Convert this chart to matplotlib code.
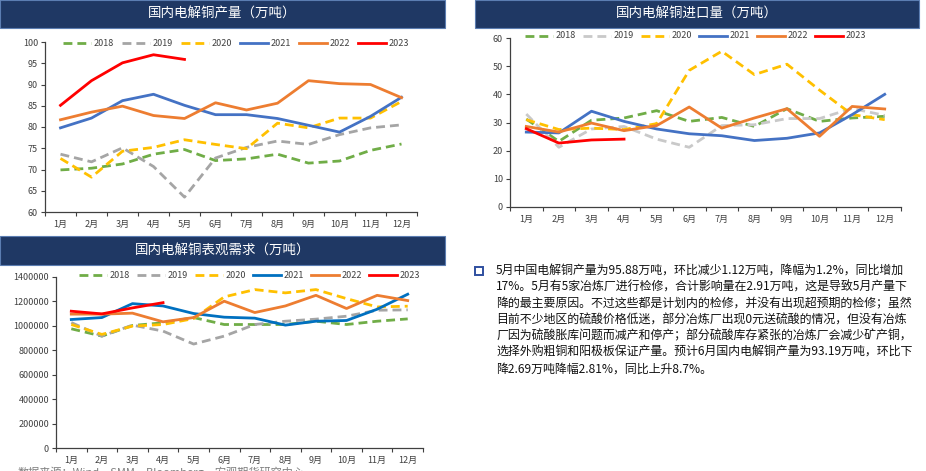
import matplotlib
matplotlib.use("Agg")
import matplotlib.pyplot as plt
from matplotlib.patches import Rectangle
from matplotlib.ticker import FixedLocator, NullFormatter

plt.rcParams['font.family'] = ['Noto Sans CJK SC', 'DejaVu Sans']

months = ["1月", "2月", "3月", "4月", "5月", "6月", "7月", "8月", "9月", "10月", "11月", "12月"]
years = ["2018", "2019", "2020", "2021", "2022", "2023"]

# 国内电解铜产量（万吨）
prod_2018 = [69.9, 70.3, 71.3, 73.6, 74.7, 72.1, 72.5, 73.6, 71.5, 72.0, 74.5, 76.0]
prod_2019 = [73.6, 71.8, 75.1, 70.7, 63.5, 72.7, 75.2, 76.7, 75.9, 78.2, 79.8, 80.5]
prod_2020 = [72.6, 68.2, 74.3, 75.2, 77.0, 75.9, 74.9, 80.9, 79.8, 82.1, 82.1, 86.0]
prod_2021 = [79.8, 82.1, 86.2, 87.7, 85.1, 82.9, 82.9, 82.0, 80.4, 78.8, 82.5, 87.0]
prod_2022 = [81.7, 83.5, 84.9, 82.7, 82.0, 85.7, 84.0, 85.6, 90.9, 90.2, 90.0, 86.9]
prod_2023 = [85.1, 90.9, 95.1, 97.0, 95.9]

# 国内电解铜进口量（万吨）
imp_2018 = [31.2, 23.3, 30.8, 31.6, 34.2, 30.4, 31.8, 28.6, 34.9, 30.4, 31.6, 32.2]
imp_2019 = [33.0, 21.2, 27.7, 28.6, 24.1, 21.2, 28.9, 29.2, 31.4, 31.4, 35.0, 32.5]
imp_2020 = [31.0, 27.5, 28.0, 27.5, 29.6, 48.5, 55.3, 47.0, 50.7, 41.5, 32.8, 31.0]
imp_2021 = [26.6, 26.3, 34.0, 30.4, 27.7, 26.0, 25.3, 23.6, 24.4, 26.3, 32.8, 40.0]
imp_2022 = [28.6, 26.6, 29.8, 27.1, 28.9, 35.5, 28.0, 31.6, 34.9, 25.1, 35.7, 34.8]
imp_2023 = [27.8, 22.7, 23.8, 24.1]

# 国内电解铜表观需求（万吨）
dem_2018 = [976000, 916000, 1003000, 1025000, 1068000, 1011000, 1011000, 1011000, 1038000, 1011000, 1038000, 1057000]
dem_2019 = [1027000, 916000, 1006000, 957000, 851000, 916000, 1011000, 1038000, 1055000, 1079000, 1128000, 1131000]
dem_2020 = [1011000, 930000, 998000, 1011000, 1060000, 1237000, 1297000, 1270000, 1297000, 1223000, 1155000, 1161000]
dem_2021 = [1052000, 1068000, 1182000, 1163000, 1101000, 1071000, 1063000, 1006000, 1038000, 1044000, 1136000, 1259000]
dem_2022 = [1096000, 1096000, 1104000, 1033000, 1068000, 1202000, 1109000, 1163000, 1250000, 1142000, 1250000, 1207000]
dem_2023 = [1120000, 1098000, 1147000, 1190000]

titles = ["国内电解铜产量（万吨）", "国内电解铜进口量（万吨）", "国内电解铜表观需求（万吨）"]
source_text = "数据来源：Wind，SMM，Bloomberg，宏观期货研究中心"
note_lines = [
    "5月中国电解铜产量为95.88万吨，环比减少1.12万吨，降幅为1.2%，同比增加",
    "17%。5月有5家冶炼厂进行检修，合计影响量在2.91万吨，这是导致5月产量下",
    "降的最主要原因。不过这些都是计划内的检修，并没有出现超预期的检修；虽然",
    "目前不少地区的硫酸价格低迷，部分冶炼厂出现0元送硫酸的情况，但没有冶炼",
    "厂因为硫酸胀库问题而减产和停产；部分硫酸库存紧张的冶炼厂会减少矿产铜，",
    "选择外购粗铜和阳极板保证产量。预计6月国内电解铜产量为93.19万吨，环比下",
    "降2.69万吨降幅2.81%，同比上升8.7%。",
]

W, H = 926, 471
fig = plt.figure(figsize=(W / 100, H / 100), dpi=100)
NAVY = "#1F3864"

def px_axes(l, t, r, b):
    return fig.add_axes([l / W, 1 - b / H, (r - l) / W, (b - t) / H])

def title_bar(l, t, r, b, text):
    fig.patches.append(Rectangle((l / W, 1 - b / H), (r - l) / W, (b - t) / H,
                                 transform=fig.transFigure, facecolor=NAVY,
                                 edgecolor="#5B7DB1", linewidth=0.8))
    fig.text((l + r) / 2 / W, 1 - (t + b) / 2 / H, text, color="white",
             fontsize=9.7, ha="center", va="center")

def draw(ax, series, colors, ylim, yticks, ylabels, legend_y, legend_x0, legend_dx):
    x = list(range(1, 13))
    styles = ["--", "--", "--", "-", "-", "-"]
    handles = []
    for name, vals, c, ls in zip(years, series, colors, styles):
        if ls == "--":
            h, = ax.plot(x[:len(vals)], vals, color=c, lw=2.0, ls=ls, dashes=(3.2, 1.8))
        else:
            h, = ax.plot(x[:len(vals)], vals, color=c, lw=2.0, ls=ls)
        handles.append(h)
    ax.set_xlim(0.5, 12.5)
    ax.set_ylim(*ylim)
    ax.set_yticks(yticks)
    ax.set_yticklabels(ylabels, fontsize=6.5, color="#404040")
    ax.set_xticks(x)
    ax.set_xticklabels(months, fontsize=6.5, color="#404040")
    ax.tick_params(axis="x", which="major", length=0, pad=6)
    ax.xaxis.set_minor_locator(FixedLocator([i + 0.5 for i in range(0, 13)]))
    ax.xaxis.set_minor_formatter(NullFormatter())
    ax.tick_params(axis="x", which="minor", length=3, width=0.8, color="#404040")
    ax.tick_params(axis="y", length=3, width=0.8, color="#404040", pad=2)
    for s in ["top", "right"]:
        ax.spines[s].set_visible(False)
    for s in ["left", "bottom"]:
        ax.spines[s].set_color("#404040")
        ax.spines[s].set_linewidth(0.9)
    ax.patch.set_alpha(0)
    for i, (h, name) in enumerate(zip(handles, years)):
        lx = legend_x0 + i * legend_dx
        fx0, fx1 = lx / W, (lx + 28) / W
        fy = 1 - legend_y / H
        ln = plt.Line2D([fx0, fx1], [fy, fy], transform=fig.transFigure,
                        color=h.get_color(), lw=2.0, ls=h.get_linestyle())
        if h.get_linestyle() == "--":
            ln.set_dashes((3.2, 1.8))
        fig.lines.append(ln)
        fig.text((lx + 31) / W, fy, name, fontsize=6.5, color="#404040", va="center", ha="left")

# Top-left chart
title_bar(0, 0, 445, 28, titles[0])
ax1 = px_axes(45, 42, 417, 212)
draw(ax1, [prod_2018, prod_2019, prod_2020, prod_2021, prod_2022, prod_2023],
     ["#70AD47", "#A5A5A5", "#FFC000", "#4472C4", "#ED7D31", "#FF0000"],
     (60, 100), list(range(60, 101, 5)), [str(v) for v in range(60, 101, 5)],
     43, 63, 59)

# Top-right chart
title_bar(475, 0, 919, 28, titles[1])
ax2 = px_axes(510, 38, 901, 207)
draw(ax2, [imp_2018, imp_2019, imp_2020, imp_2021, imp_2022, imp_2023],
     ["#70AD47", "#C9C9C9", "#FFC000", "#4472C4", "#ED7D31", "#FF0000"],
     (0, 60), list(range(0, 61, 10)), [str(v) for v in range(0, 61, 10)],
     36, 525, 58)

# Bottom-left chart
title_bar(0, 236, 445, 265, titles[2])
ax3 = px_axes(56, 277, 423, 448)
yt = list(range(0, 1400001, 200000))
draw(ax3, [dem_2018, dem_2019, dem_2020, dem_2021, dem_2022, dem_2023],
     ["#70AD47", "#A5A5A5", "#FFC000", "#0070C0", "#ED7D31", "#FF0000"],
     (0, 1400000), yt, [str(v) for v in yt],
     275, 79, 58)

# Source (partially cut off at bottom, as in the reference)
fig.text(18 / W, 1 - 467 / H, source_text, fontsize=8, color="#7F7F7F", va="top", ha="left")

# Note box
fig.patches.append(Rectangle((475 / W, 1 - 275 / H), 8 / W, 8 / H, transform=fig.transFigure,
                             facecolor="white", edgecolor="#2F4F9F", linewidth=1.4))
for i, line in enumerate(note_lines):
    fig.text(496 / W, 1 - (271 + i * 16.3) / H, line, fontsize=8.6, color="#111111",
             va="center", ha="left")

fig.savefig("out.png", dpi=100)
